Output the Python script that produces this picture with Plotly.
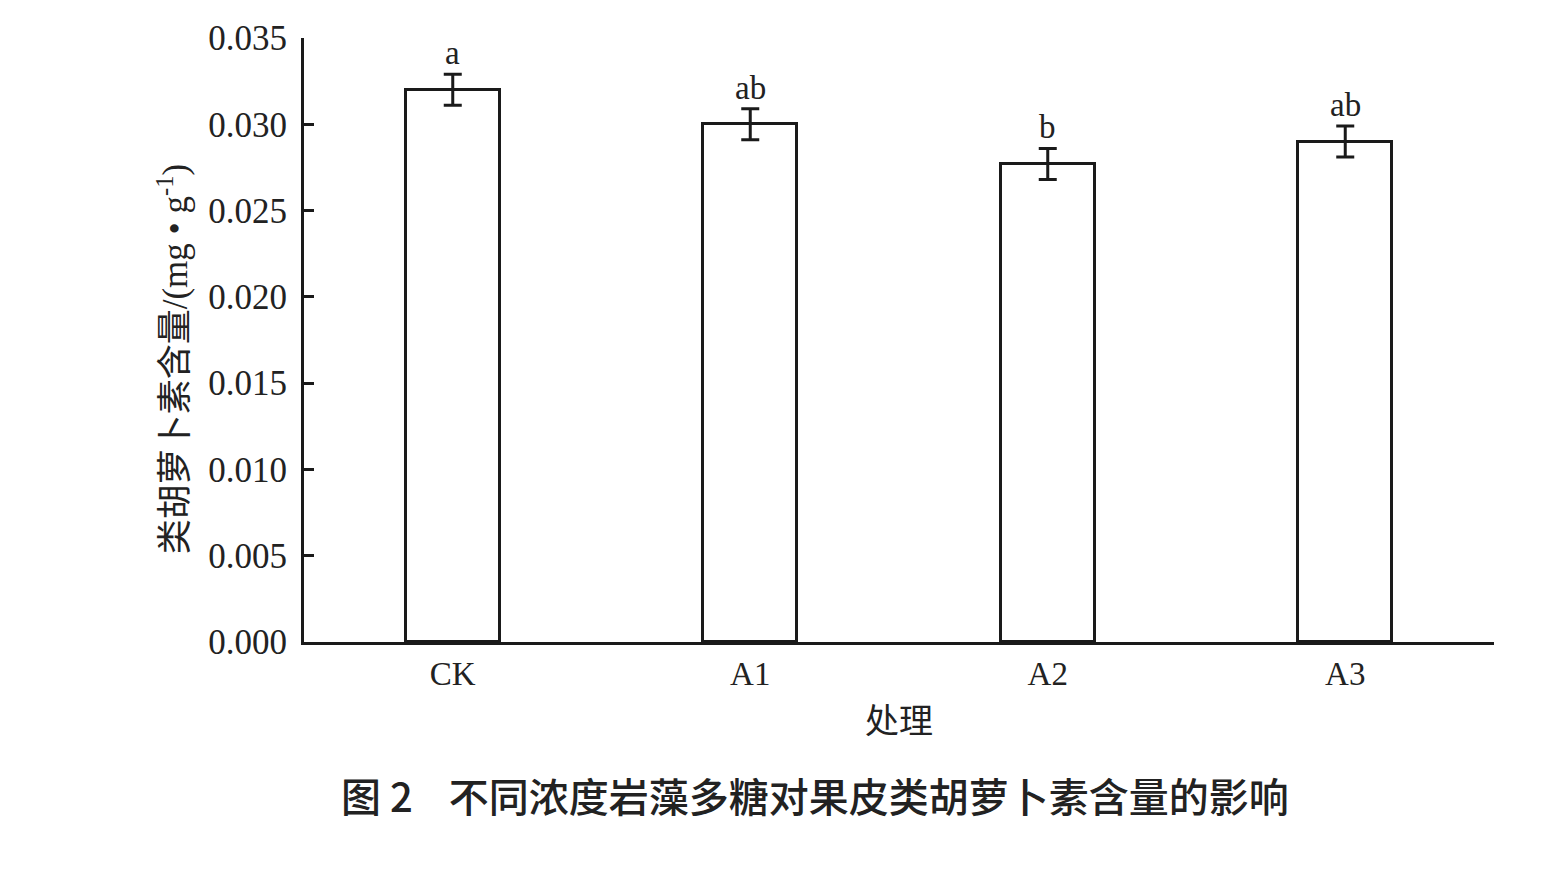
import plotly.graph_objects as go

categories = ["CK", "A1", "A2", "A3"]
values = [0.0320, 0.0300, 0.0277, 0.0290]
errors = [0.0009, 0.0009, 0.0009, 0.0009]
letters = ["a", "ab", "b", "ab"]
y_ticks = [0.000, 0.005, 0.010, 0.015, 0.020, 0.025, 0.030, 0.035]

serif = "Liberation Serif, Times New Roman, Noto Sans CJK SC"
cjk = "Noto Sans CJK SC, Liberation Serif"

fig = go.Figure()
fig.add_trace(go.Bar(
    x=categories, y=values,
    width=0.315,
    marker=dict(color="white", line=dict(color="#1a1a1a", width=3)),
    error_y=dict(type="data", array=errors, visible=True,
                 color="#1a1a1a", thickness=3, width=9),
    showlegend=False,
))

for c, v, e, t in zip(categories, values, errors, letters):
    fig.add_annotation(x=c, y=v + e, text=t, showarrow=False,
                       yanchor="bottom", yshift=1,
                       font=dict(family=serif, size=33, color="#222"))

# y-axis title
fig.add_annotation(xref="paper", yref="paper", x=0, y=0.468, xshift=-131,
                   text="类胡萝卜素含量/(mg • g<sup>-1</sup>)", textangle=-90,
                   showarrow=False, xanchor="center", yanchor="middle",
                   font=dict(family=serif, size=35, color="#222"))

# figure caption
fig.add_annotation(xref="paper", yref="paper", x=0.029, y=-0.253,
                   text="图 2    不同浓度岩藻多糖对果皮类胡萝卜素含量的影响",
                   showarrow=False, xanchor="left", yanchor="middle",
                   font=dict(family=cjk, size=40, color="#222", weight=500))

fig.update_layout(
    width=1537, height=862,
    margin=dict(l=296, r=51, t=30, b=228),
    paper_bgcolor="white", plot_bgcolor="white",
    bargap=0,
    xaxis=dict(range=[-0.5, 3.5], showline=True, linecolor="#1a1a1a",
               linewidth=3, ticks="", showgrid=False, zeroline=False,
               tickfont=dict(family=serif, size=33, color="#222"),
               title=dict(text="处理", font=dict(family=cjk, size=34, color="#222"),
                          standoff=19)),
    yaxis=dict(range=[0, 0.035], tickvals=y_ticks,
               ticktext=[f"{v:.3f}" for v in y_ticks],
               showline=True, linecolor="#1a1a1a", linewidth=3,
               ticks="inside", ticklen=10, tickwidth=3, tickcolor="#1a1a1a",
               ticklabelstandoff=7,
               showgrid=False, zeroline=False,
               tickfont=dict(family=serif, size=35, color="#222")),
)

fig.write_html("out.html")
